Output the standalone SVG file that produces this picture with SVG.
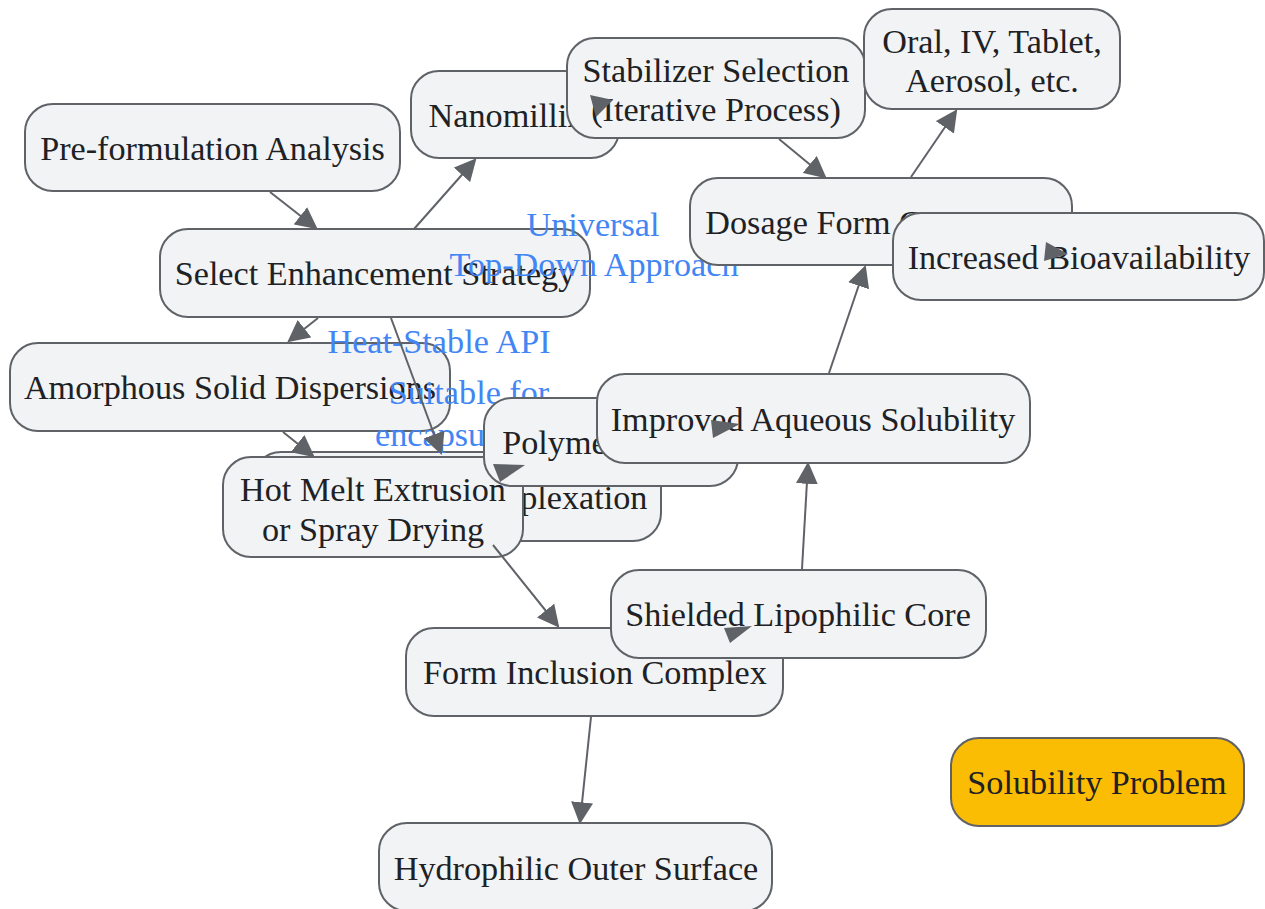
<svg xmlns="http://www.w3.org/2000/svg" width="1265" height="909" viewBox="0 0 1265 909">
<defs>
<style>
.node rect{fill:#f1f3f4;stroke:#5f6368;stroke-width:2}
.node text{font-family:"Liberation Serif","Times New Roman",serif;font-size:34.2px;fill:#202124;text-anchor:middle}
#n_solprob rect{fill:#fbbc04}
.lbl{font-family:"Liberation Serif","Times New Roman",serif;font-size:34.2px;fill:#4285f4;text-anchor:middle}
.edge{fill:none;stroke:#5f6368;stroke-width:2;marker-end:url(#arr)}
.head{fill:#5f6368}
</style>
<marker id="arr" viewBox="0 0 10 10" refX="9" refY="5" markerWidth="11" markerHeight="11" orient="auto" markerUnits="strokeWidth">
<path d="M0,0 L10,5 L0,10 z" fill="#5f6368"/>
</marker>
</defs>
<rect width="1265" height="909" fill="#ffffff"/>
<g id="nodes-back">
<g id="n_pre" class="node"><rect x="25" y="104" width="375" height="87" rx="28"/><text x="212.5" y="159.5">Pre-formulation Analysis</text></g>
<g id="n_nano" class="node"><rect x="411" y="71" width="208" height="87" rx="28"/><text x="515" y="126.5">Nanomilling</text></g>
<g id="n_stab" class="node"><rect x="567" y="38" width="298" height="100" rx="28"/><text x="716" y="81.5">Stabilizer Selection</text><text x="716" y="120.5">(Iterative Process)</text></g>
<g id="n_oral" class="node"><rect x="864" y="9" width="256" height="100" rx="28"/><text x="992" y="52.5">Oral, IV, Tablet,</text><text x="992" y="91.5">Aerosol, etc.</text></g>
<g id="n_select" class="node"><rect x="160" y="229" width="430" height="88" rx="28"/><text x="375" y="284.5">Select Enhancement Strategy</text></g>
<g id="n_amorph" class="node"><rect x="10" y="343" width="440" height="88" rx="28"/><text x="230" y="398.5">Amorphous Solid Dispersions</text></g>
<g id="n_complex" class="node"><rect x="253" y="452" width="408" height="89" rx="28"/><text x="457" y="508.5">Cyclodextrin Complexation</text></g>
<g id="n_hotmelt" class="node"><rect x="223" y="457" width="300" height="100" rx="28"/><text x="373" y="500.5">Hot Melt Extrusion</text><text x="373" y="540.5">or Spray Drying</text></g>
<g id="n_forminc" class="node"><rect x="406" y="628" width="377" height="88" rx="28"/><text x="595" y="684">Form Inclusion Complex</text></g>
<g id="n_hydro" class="node"><rect x="379" y="823" width="393" height="88" rx="28"/><text x="576" y="880">Hydrophilic Outer Surface</text></g>
<g id="n_shield" class="node"><rect x="611" y="570" width="375" height="88" rx="28"/><text x="798" y="626">Shielded Lipophilic Core</text></g>
<g id="n_solprob" class="node"><rect x="951" y="738" width="293" height="88" rx="28"/><text x="1097" y="794">Solubility Problem</text></g>
</g>
<g id="edge-labels">
<text class="lbl" x="593" y="236">Universal</text>
<text class="lbl" x="594" y="276">Top-Down Approach</text>
<text class="lbl" x="439" y="353">Heat-Stable API</text>
<text class="lbl" x="469" y="404">Suitable for</text>
<text class="lbl" x="469" y="446">encapsulation</text>
</g>
<g id="nodes-front">
<g id="n_dosage" class="node"><rect x="690" y="178" width="382" height="87" rx="28"/><text x="881" y="233.5">Dosage Form Conversion</text></g>
<g id="n_incr" class="node"><rect x="893" y="213" width="371" height="87" rx="28"/><text x="1079" y="268.5">Increased Bioavailability</text></g>
<g id="n_polymer" class="node"><rect x="484" y="398" width="254" height="88" rx="28"/><text x="611" y="453.5">Polymer Matrix</text></g>
<g id="n_improved" class="node"><rect x="597" y="374" width="433" height="89" rx="28"/><text x="813" y="430.5">Improved Aqueous Solubility</text></g>
</g>
<g id="connectors">
<path class="edge" d="M270,192 L316,228"/>
<path class="edge" d="M414,229 L475,160"/>
<path class="edge" d="M318,318 L289,341"/>
<path class="edge" d="M391,318 L441,453"/>
<path class="edge" d="M283,432 L313,456"/>
<path class="edge" d="M493,545 L558,626"/>
<path class="edge" d="M591,717 L580,822"/>
<path class="edge" d="M802,569 L808,464"/>
<path class="edge" d="M829,373 L865,267"/>
<path class="edge" d="M911,177 L956,111"/>
<path class="edge" d="M779,139 L825,177"/>
<polygon class="head" points="590,95 613,100 596,117"/>
<polygon class="head" points="1046,242 1068,254 1044,261"/>
<polygon class="head" points="711,420 740,424 713,438"/>
<polygon class="head" points="724,628 752,626 730,643"/>
<polygon class="head" points="493,464 525,465 500,482"/>
</g>
</svg>
